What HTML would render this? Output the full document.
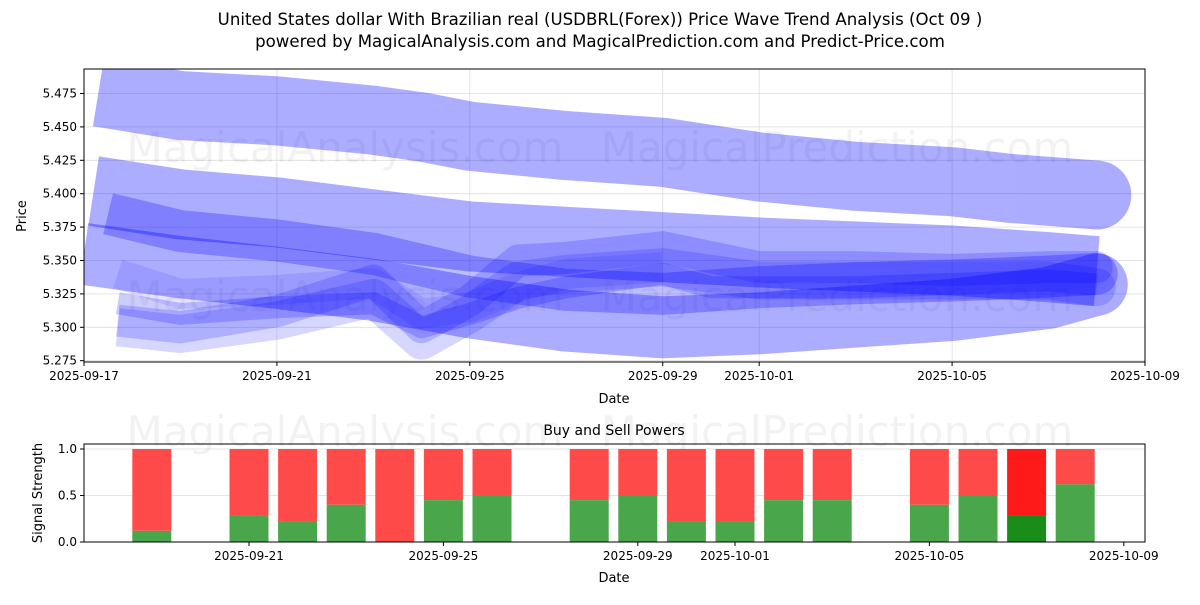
<!DOCTYPE html>
<html><head><meta charset="utf-8"><style>
body{margin:0;background:#fff;font-family:"Liberation Sans","DejaVu Sans",sans-serif}
svg text{font-family:"DejaVu Sans","Liberation Sans",sans-serif}
</style></head><body>
<svg id="c" width="1200" height="600" xmlns="http://www.w3.org/2000/svg">
<defs><clipPath id="pc"><rect x="84" y="69" width="1061" height="293"/></clipPath></defs>
<rect width="1200" height="600" fill="#fff"/>
<text x="600" y="25" text-anchor="middle" font-size="16.6">United States dollar With Brazilian real (USDBRL(Forex)) Price Wave Trend Analysis (Oct 09 )</text>
<text x="600" y="47" text-anchor="middle" font-size="16.6">powered by MagicalAnalysis.com and MagicalPrediction.com and Predict-Price.com</text>
<g id="top"></g><g id="bands" clip-path="url(#pc)"></g><g id="frame"></g><g id="bot"></g>
</svg>
<script>
const NS="http://www.w3.org/2000/svg";
// ---- data ----
const xTickLabels=["2025-09-17","2025-09-21","2025-09-25","2025-09-29","2025-10-01","2025-10-05","2025-10-09"];
const xTickDays=[0,4,8,12,14,18,22];
const yTicks=[5.275,5.300,5.325,5.350,5.375,5.400,5.425,5.450,5.475];
const bandADays=[0.3,2,4,6,7,8,10,12,14,16,18,19.2,21];
const bandAVals=[5.476,5.466,5.462,5.455,5.450,5.443,5.436,5.431,5.420,5.413,5.409,5.404,5.399];
const bandBDays=[0.2,2,4,6,8,10,12,14,16,18,20,21];
const bandBVals=[5.402,5.392,5.386,5.377,5.368,5.364,5.360,5.356,5.353,5.350,5.345,5.342];
const bandCDays=[0.5,2,4,6,8,10,12,14,16,18,20,21];
const bandCVals=[5.385,5.372,5.365,5.355,5.338,5.328,5.325,5.330,5.333,5.335,5.338,5.340];
const bandDDays=[0,2,4,6,8,10,12,14,16,18,20,21];
const bandDVals=[5.355,5.345,5.337,5.328,5.315,5.305,5.300,5.303,5.308,5.313,5.322,5.332];
const bandEDays=[0.7,2,4,6,7,8,9,10,12,14,16,18,20,21];
const bandEVals=[5.305,5.300,5.312,5.335,5.300,5.320,5.350,5.352,5.360,5.345,5.345,5.343,5.345,5.345];
const bandFDays=[0.7,2,4,6,7,8,9,10,12,14,16,18,20,21];
const bandFVals=[5.300,5.295,5.305,5.322,5.290,5.310,5.335,5.340,5.345,5.335,5.335,5.335,5.335,5.330];
const bandGDays=[0.7,2,4,6,7,8,9,10,12,13,16,20,21];
const bandGVals=[5.318,5.310,5.315,5.318,5.300,5.310,5.322,5.330,5.340,5.330,5.330,5.335,5.332];
const bandHDays=[0.7,2,4,6,7,8,9,10,12];
const bandHVals=[5.340,5.325,5.328,5.333,5.310,5.315,5.330,5.340,5.345];
const barDays=[2,4,5,6,7,8,9,11,12,13,14,15,16,18,19,20,21];
const buyVals=[0.12,0.28,0.22,0.40,0.0,0.45,0.50,0.45,0.50,0.22,0.22,0.45,0.45,0.40,0.50,0.28,0.62];
const highlightIdx=[15];
const bxTickLabels=["2025-09-21","2025-09-25","2025-09-29","2025-10-01","2025-10-05","2025-10-09"];
const bxTickDays=[4,8,12,14,18,22];
const byTicks=[0,0.5,1];
// ---- scales ----
const L=84,R=1145,T=69,B=362;
const xs=d=>L+d*(R-L)/22;
const ys=v=>93.5+(5.475-v)/0.025*33.4;
const BL=84,BR=1145,BT=444,BB=542;
const bx=d=>249+(d-4)*48.6;
const by=v=>542-v*93;
function el(tag,attrs,parent){const e=document.createElementNS(NS,tag);for(const k in attrs)e.setAttribute(k,attrs[k]);parent.appendChild(e);return e;}
const topG=document.getElementById('top'),botG=document.getElementById('bot'),bandsG=document.getElementById('bands'),frameG=document.getElementById('frame');
yTicks.forEach(v=>{
 const g=el('line',{x1:L,x2:R,y1:ys(v),y2:ys(v),stroke:'#ddd','stroke-width':0.8},topG);
 
 
 el('line',{x1:L-4,x2:L,y1:ys(v),y2:ys(v),stroke:'#000'},topG);
 const t=el('text',{x:L-7,y:ys(v)+4,'text-anchor':'end','font-size':12},topG);t.textContent=v.toFixed(3);
 
 
});
xTickDays.forEach((d,i)=>{
 const g=el('line',{x1:xs(d),x2:xs(d),y1:T,y2:B,stroke:'#ddd','stroke-width':0.8},topG);
 
 
 el('line',{x1:xs(d),x2:xs(d),y1:B,y2:B+4,stroke:'#000'},topG);
 const t=el('text',{x:xs(d),y:B+18,'text-anchor':'middle','font-size':12},topG);t.textContent=xTickLabels[i];
 
 
});
[[345,148,'MagicalAnalysis.com'],[837,148,'MagicalPrediction.com'],[345,297,'MagicalAnalysis.com'],[837,297,'MagicalPrediction.com']].forEach(w=>{
 const t=el('text',{x:w[0],y:w[1]+14,'text-anchor':'middle','font-size':42,fill:'#000','fill-opacity':0.05},topG);t.textContent=w[2];
 
 
});
function band(days,vals,w,op,name,cap){
 const grp=el('g',{opacity:op},bandsG);
 
 
 const pts=days.map((d,i)=>xs(d)+','+ys(vals[i])).join(' ');
 el('polyline',{points:pts,fill:'none',stroke:'#0000ff','stroke-width':w,'stroke-linejoin':'round'},grp);
 if(cap){const n=days.length-1;el('circle',{cx:xs(days[n]),cy:ys(vals[n]),r:w/2,fill:'#0000ff'},grp);}
}
band(bandDDays,bandDVals,62,0.32,'wave-band-d',true);
band(bandBDays,bandBVals,70,0.32,'wave-band-b',false);
band(bandADays,bandAVals,69,0.32,'wave-band-a',true);
band(bandCDays,bandCVals,42,0.26,'wave-band-c',true);
band(bandHDays,bandHVals,30,0.1,'wave-band-h',false);
band(bandEDays,bandEVals,32,0.18,'wave-band-e',true);
band(bandFDays,bandFVals,38,0.16,'wave-band-f',true);
band(bandGDays,bandGVals,22,0.2,'wave-band-g',false);
el('rect',{x:L,y:T,width:R-L,height:B-T,fill:'none',stroke:'#000','stroke-width':1},frameG);
let t=el('text',{x:614,y:403,'text-anchor':'middle','font-size':13},topG);t.textContent='Date';


t=el('text',{x:26,y:216,'text-anchor':'middle','font-size':13,transform:'rotate(-90 26 216)'},topG);t.textContent='Price';


byTicks.forEach(v=>{
 const g=el('line',{x1:BL,x2:BR,y1:by(v),y2:by(v),stroke:'#ddd','stroke-width':0.8},botG);
 
 
 el('line',{x1:BL-4,x2:BL,y1:by(v),y2:by(v),stroke:'#000'},botG);
 const tt=el('text',{x:BL-7,y:by(v)+4,'text-anchor':'end','font-size':12},botG);tt.textContent=v.toFixed(1);
 
 
});
[[345,432,'MagicalAnalysis.com'],[837,432,'MagicalPrediction.com']].forEach(w=>{
 const tt=el('text',{x:w[0],y:w[1]+14,'text-anchor':'middle','font-size':42,fill:'#000','fill-opacity':0.05},botG);tt.textContent=w[2];
 
 
});
barDays.forEach((d,i)=>{
 const hl=highlightIdx.includes(i);
 const x=bx(d)-19.5,v=buyVals[i];
 const r=el('rect',{x:x,y:by(1),width:39,height:by(v)-by(1),fill:hl?'#ff1a1a':'#ff4a4a'},botG);
 
 
 const g=el('rect',{x:x,y:by(v),width:39,height:by(0)-by(v),fill:hl?'#1a8c1a':'#4aa64a'},botG);
 
 
});
bxTickDays.forEach((d,i)=>{
 el('line',{x1:bx(d),x2:bx(d),y1:BB,y2:BB+4,stroke:'#000'},botG);
 const tt=el('text',{x:bx(d),y:BB+18,'text-anchor':'middle','font-size':12},botG);tt.textContent=bxTickLabels[i];
 
 
});
el('rect',{x:BL,y:BT,width:BR-BL,height:BB-BT,fill:'none',stroke:'#000','stroke-width':1},botG);
t=el('text',{x:614,y:435,'text-anchor':'middle','font-size':14},botG);t.textContent='Buy and Sell Powers';


t=el('text',{x:614,y:582,'text-anchor':'middle','font-size':13},botG);t.textContent='Date';


t=el('text',{x:42,y:493,'text-anchor':'middle','font-size':13,transform:'rotate(-90 42 493)'},botG);t.textContent='Signal Strength';


</script>
</body></html>
